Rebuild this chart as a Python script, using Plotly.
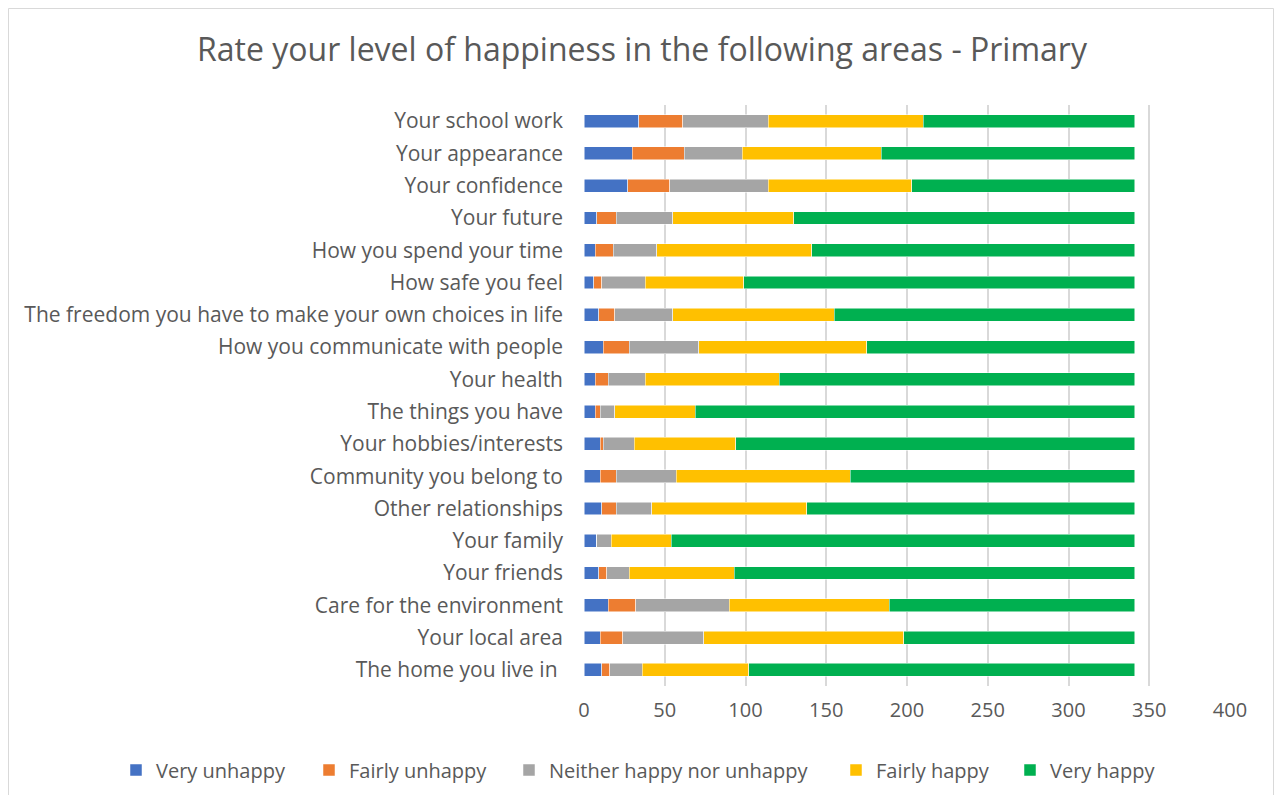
import plotly.graph_objects as go

categories = [
    "Your school work", "Your appearance", "Your confidence", "Your future",
    "How you spend your time", "How safe you feel",
    "The freedom you have to make your own choices in life",
    "How you communicate with people", "Your health", "The things you have",
    "Your hobbies/interests", "Community you belong to", "Other relationships",
    "Your family", "Your friends", "Care for the environment", "Your local area",
    "The home you live in ",
]

very_unhappy   = [34, 30, 27, 8, 7, 6, 9, 12, 7, 7, 10, 10, 11, 8, 9, 15, 10, 11]
fairly_unhappy = [27, 32, 26, 12, 11, 5, 10, 16, 8, 3, 2, 10, 9, 0, 5, 17, 14, 5]
neither        = [53, 36, 61, 35, 27, 27, 36, 43, 23, 9, 19, 37, 22, 9, 14, 58, 50, 20]
fairly_happy   = [96, 86, 89, 75, 96, 61, 100, 104, 83, 50, 63, 108, 96, 37, 65, 99, 124, 66]
very_happy     = [131, 157, 138, 211, 200, 242, 186, 166, 220, 272, 247, 176, 203, 287, 248, 152, 143, 239]

series = [
    ("Very unhappy", very_unhappy, "#4472C4"),
    ("Fairly unhappy", fairly_unhappy, "#ED7D31"),
    ("Neither happy nor unhappy", neither, "#A5A5A5"),
    ("Fairly happy", fairly_happy, "#FFC000"),
    ("Very happy", very_happy, "#00B050"),
]

FONT = "Open Sans"
TXT = "#595959"
FS = 21

# page body has an 8px margin; work in page coordinates and shift
OFF = 8
W, H = 1282 - 2 * OFF, 803 - 2 * OFF
L = 584 - OFF
T = 105 - OFF
R = W - (1230 - OFF)
B = H - (686 - OFF)
pw, ph = W - L - R, H - T - B

def px(x):
    return (x - OFF - L) / pw

def py(y):
    return 1 - (y - OFF - T) / ph

legend_text_x = [153, 346, 546, 873, 1047]

fig = go.Figure()
legends = {}
for i, (name, vals, col) in enumerate(series):
    lname = "legend" if i == 0 else f"legend{i + 1}"
    fig.add_trace(go.Bar(
        y=categories, x=vals, name=name, orientation="h",
        marker=dict(color=col, line=dict(color="white", width=0.5)),
        legend=lname, showlegend=True,
    ))
    legends[lname] = dict(
        orientation="h", x=px(legend_text_x[i] - 37), xref="paper", xanchor="left",
        y=py(770), yref="paper", yanchor="middle",
        font=dict(size=FS - 1, color=TXT), itemwidth=30,
        bgcolor="rgba(0,0,0,0)", visible=True,
    )

fig.update_layout(
    width=W, height=H,
    showlegend=True,
    barmode="stack", bargap=0.6,
    paper_bgcolor="white", plot_bgcolor="white",
    margin=dict(l=L, r=R, t=T, b=B, autoexpand=False),
    font=dict(family=FONT, color=TXT, size=FS),
    title=dict(
        text="Rate your level of happiness in the following areas - Primary",
        x=(642 - OFF) / W, xref="container", xanchor="center",
        y=1 - (50 - OFF) / H, yref="container", yanchor="middle",
        font=dict(family=FONT, size=32, color=TXT),
    ),
    xaxis=dict(
        range=[0, 400], dtick=50, tick0=0,
        showgrid=True, gridcolor="#D9D9D9", gridwidth=1.5,
        zeroline=False, showline=False, ticks="",
        tickfont=dict(size=FS - 1, color=TXT), ticklabelstandoff=10,
    ),
    yaxis=dict(
        autorange="reversed", showgrid=False, showline=False, ticks="",
        tickfont=dict(size=FS, color=TXT), ticklabelstandoff=20,
    ),
    shapes=[dict(
        type="rect", xref="paper", yref="paper",
        x0=px(OFF + 0.5), x1=px(1273.5), y0=py(802), y1=py(OFF + 0.5),
        line=dict(color="#D9D9D9", width=1), fillcolor="rgba(0,0,0,0)",
        layer="below",
    )],
    **legends,
)

fig.write_html("out.html")
